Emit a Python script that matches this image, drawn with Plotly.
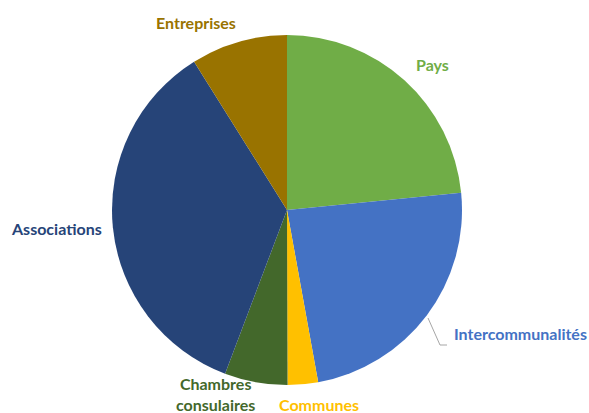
import plotly.graph_objects as go

labels = ["Pays", "Intercommunalités", "Communes", "Chambres<br>consulaires", "Associations", "Entreprises"]
values = [23.4, 23.7, 2.8, 5.8, 35.3, 8.9]
colors = ["#70AD47", "#4472C4", "#FFC000", "#43682B", "#264478", "#997300"]

W, H = 589, 413
cx, cy, r = 287, 210, 175

def px(x):
    return x / W

def py(y):
    return 1 - y / H

fig = go.Figure(go.Pie(
    labels=labels, values=values, sort=False, direction="clockwise", rotation=0,
    marker=dict(colors=colors, line=dict(width=0)),
    textinfo="none", hoverinfo="label+percent", showlegend=False,
    domain=dict(x=[(cx - r) / W, (cx + r) / W], y=[1 - (cy + r) / H, 1 - (cy - r) / H]),
))

label_pos = [
    ("Pays", 432, 64, "center", colors[0]),
    ("Intercommunalités", 452, 333, "left", colors[1]),
    ("Communes", 277, 404, "left", colors[2]),
    ("Chambres<br>consulaires", 215, 394, "center", colors[3]),
    ("Associations", 9, 228, "left", colors[4]),
    ("Entreprises", 196, 22, "center", colors[5]),
]
for t, x, y, anc, c in label_pos:
    fig.add_annotation(x=px(x), y=py(y), xref="paper", yref="paper", text="<b>" + t + "</b>",
                       showarrow=False, xanchor=anc, yanchor="middle",
                       font=dict(family="Lato", size=16, color=c))

# leader line for Intercommunalités
fig.add_shape(type="path", xref="paper", yref="paper",
              path=f"M {px(428)} {py(318)} L {px(440)} {py(345)} L {px(447)} {py(345)}",
              line=dict(color="#A6A6A6", width=1))

fig.update_layout(width=W, height=H, margin=dict(l=0, r=0, t=0, b=0),
                  paper_bgcolor="white", plot_bgcolor="white")
fig.write_html("out.html", config={"displayModeBar": False},
               post_script="document.body.style.margin='0';document.body.style.overflow='hidden';")
